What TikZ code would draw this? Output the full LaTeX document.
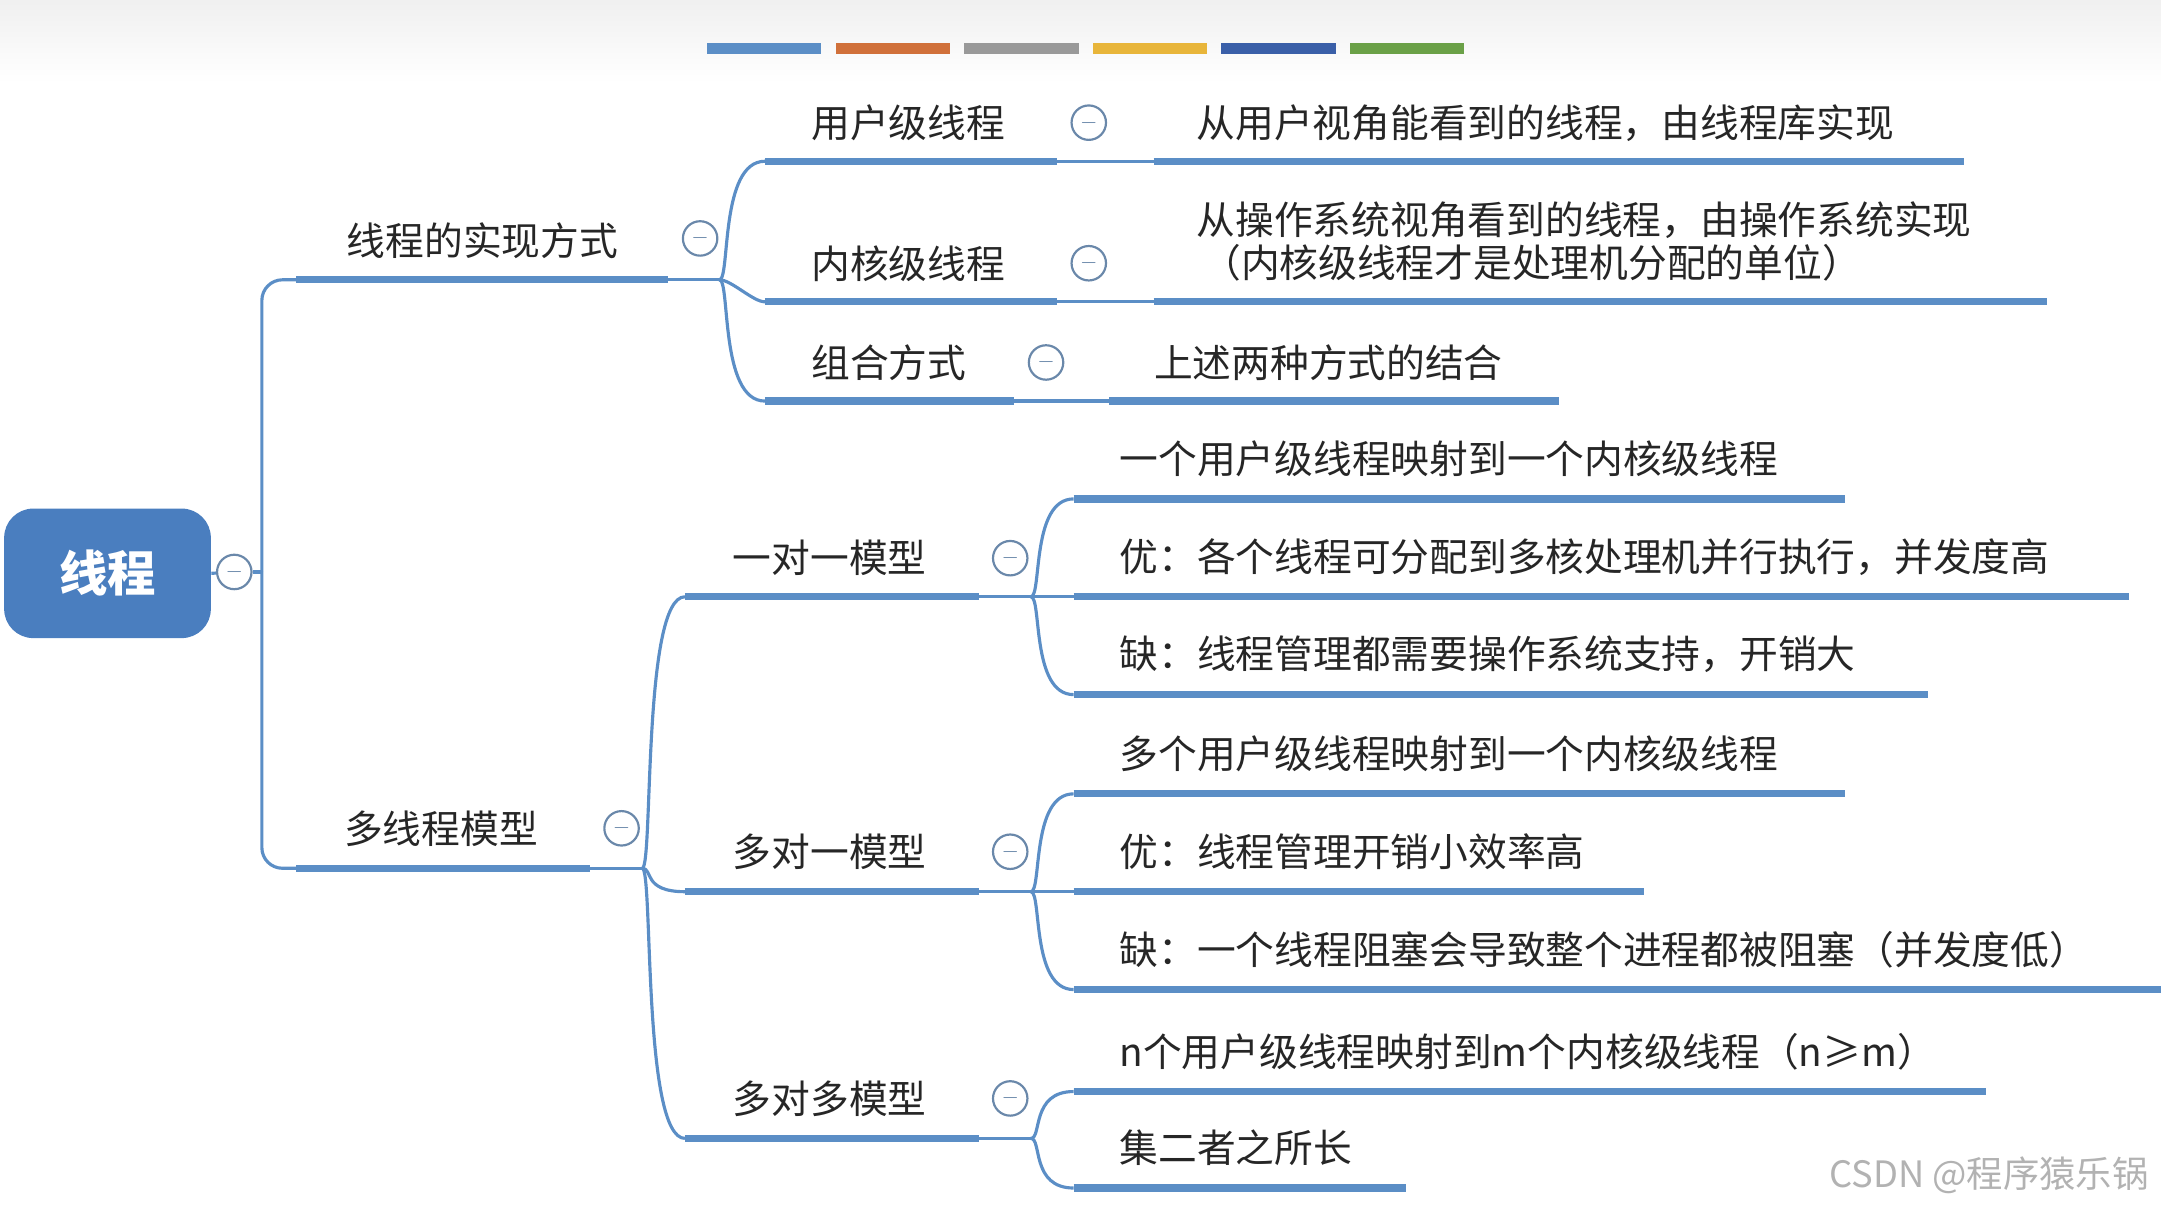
\documentclass[tikz,border=0pt]{standalone}
\usepackage{fontspec}
\setmainfont{Noto Sans CJK SC}
\usetikzlibrary{positioning}
\definecolor{mapblue}{HTML}{5B8EC6}
\definecolor{rootblue}{HTML}{4A7EBF}
\tikzset{
  ul/.style={mapblue, line width=3pt},
  link/.style={mapblue, line width=1.3pt},
  lab/.style={font=\fontsize{16}{19}\selectfont, text=black!85, inner sep=0pt},
  tog/.style={circle, draw=mapblue!60!gray, fill=white, line width=0.9pt, minimum size=0.5cm, inner sep=0pt, font=\small, text=mapblue!60!gray},
}
\begin{document}
\begin{tikzpicture}[x=0.02cm, y=-0.02cm]
            \useasboundingbox (0,0) rectangle (1568,880);
            \fill[top color=gray!12, bottom color=white] (0,0) rectangle (1568,60);

            % colour bars
            \foreach \c [count=\i] in {5B8EC6,D0703A,999999,E8B53A,3A5FA8,6AA047}{
                \definecolor{bar}{HTML}{\c}
                \fill[bar] (513+93.3*\i-93.3,31) rectangle ++(83,8);
            }

            % root
            \node[fill=rootblue, rounded corners=12pt, minimum width=3cm, minimum height=1.88cm,
                  text=white, font=\fontsize{20}{24}\selectfont\bfseries] (root) at (78,416) {线程};
            \node[tog] (t0) at (170,415) {$-$};
            \draw[link] (root.east) -- (t0);

            % first level
            \coordinate (j0) at (190,415);
            \draw[link] (t0) -- (j0);
            \draw[link] (j0) -- (190,218) to[out=90, in=180] (205,203) -- (215,203);
            \draw[link] (j0) -- (190,615) to[out=-90, in=180] (205,630) -- (215,630);

            \node[lab] (impl) at (350,175) {线程的实现方式};
            \draw[ul] (215,203) -- (485,203);
            \node[tog] (t1) at (508,173) {$-$};
            \node[lab] (multi) at (320,601) {多线程模型};
            \draw[ul] (215,630) -- (428,630);
            \node[tog] (t2) at (451,601) {$-$};

            % implementation
            \coordinate (j1) at (522,203);
            \draw[link] (485,203) -- (j1);
            \draw[link] (j1) to[out=0, in=180, looseness=0.6] (555,219);
            \draw[link] (j1) .. controls (530,203) and (522,117) .. (555,117);
            \draw[link] (j1) .. controls (530,203) and (522,291) .. (555,291);
            \foreach \y/\e in {117/767,219/767,291/736}{
                \draw[ul] (555,\y) -- (\e,\y);
            }
            \node[lab] (user) at (659,89) {用户级线程};
            \node[tog] (tu) at (790,89) {$-$};
            \draw[link] (767,117) -- (837,117);
            \draw[ul] (837,117) -- (1425,117);
            \node[lab, anchor=west] (userd) at (868,89) {从用户视角能看到的线程，由线程库实现};

            \node[lab] (kern) at (659,191) {内核级线程};
            \node[tog] (tk) at (790,191) {$-$};
            \draw[link] (767,219) -- (837,219);
            \draw[ul] (837,219) -- (1485,219);
            \node[lab, anchor=west] (kernd) at (868,160) {从操作系统视角看到的线程，由操作系统实现};
            \node[lab, anchor=west] (kernd2) at (872,191) {（内核级线程才是处理机分配的单位）};

            \node[lab] (comb) at (645,263) {组合方式};
            \node[tog] (tc) at (759,263) {$-$};
            \draw[link] (736,291) -- (805,291);
            \draw[ul] (805,291) -- (1131,291);
            \node[lab, anchor=west] (combd) at (837,263) {上述两种方式的结合};

            % models
            \coordinate (j2) at (466,630);
            \draw[link] (428,630) -- (j2);
            \foreach \y in {433,647,826}{
                \draw[link] (j2) .. controls (474,630) and (466,\y) .. (497,\y);
                \draw[ul] (497,\y) -- (710,\y);
                \draw[link] (710,\y) -- (748,\y);
            }
            \node[lab] (m11) at (602,405) {一对一模型};
            \node[tog] (tm1) at (733,405) {$-$};
            \node[lab] (mn1) at (602,618) {多对一模型};
            \node[tog] (tm2) at (733,618) {$-$};
            \node[lab] (mnn) at (602,797) {多对多模型};
            \node[tog] (tm3) at (733,797) {$-$};

            \foreach \jy/\y/\e/\t in {
                433/362/1339/一个用户级线程映射到一个内核级线程,
                433/433/1545/优：各个线程可分配到多核处理机并行执行，并发度高,
                433/504/1399/缺：线程管理都需要操作系统支持，开销大,
                647/576/1339/多个用户级线程映射到一个内核级线程,
                647/647/1193/优：线程管理开销小效率高,
                647/718/1568/缺：一个线程阻塞会导致整个进程都被阻塞（并发度低）,
                826/792/1441/n个用户级线程映射到m个内核级线程（n≥m）,
                826/862/1020/集二者之所长}{
                \draw[link] (748,\jy) .. controls (756,\jy) and (748,\y) .. (779,\y);
                \draw[ul] (779,\y) -- (\e,\y);
                \node[lab, anchor=west] at (812,\y-29) {\t};
            }

            \node[font=\fontsize{15}{17}\selectfont, text=gray!60, anchor=east] (wm) at (1565,853) {CSDN @程序猿乐锅};
\end{tikzpicture}
\end{document}
